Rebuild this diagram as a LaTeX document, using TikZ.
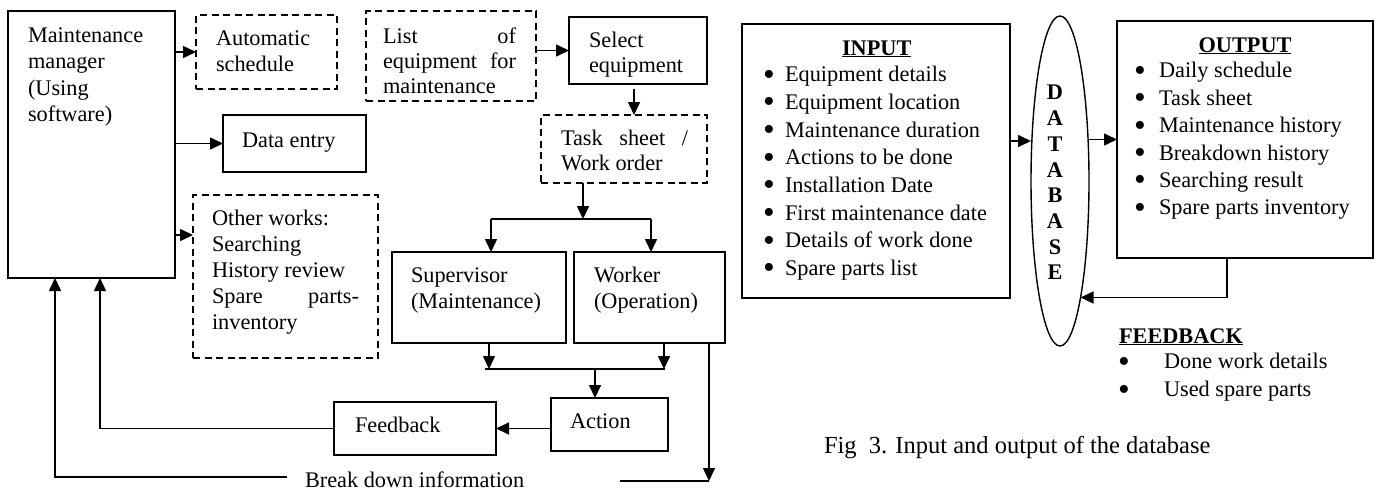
\documentclass[tikz,border=0pt]{standalone}
\usepackage{fontspec}
\usepackage{graphicx}
\setmainfont{Liberation Serif}
\usetikzlibrary{arrows.meta,shapes.geometric,fit}
\newcommand\bul[1]{\makebox[#1][l]{\hspace*{-2pt}\raisebox{-0.15em}{\scalebox{1.5}{\textbullet}}}}
\begin{document}
\begin{tikzpicture}[x=1pt,y=-1pt,
  every node/.style={inner sep=0pt, outer sep=0pt},
  box/.style={draw, line width=1.6pt},
  dbox/.style={draw, line width=1.5pt, dash pattern=on 7pt off 4.5pt},
  txt/.style={anchor=north west, align=left, font=\fontsize{22.3}{26.5}\selectfont},
  txtb/.style={anchor=north west, align=left, font=\fontsize{22.3}{25}\selectfont},
  ln/.style={line width=1.6pt},
  arr/.style={line width=1.6pt, -{Triangle[length=13pt,width=12pt]}}]
\useasboundingbox (0,0) rectangle (1380,490);

% ---------- maintenance flow ----------
\node[box, fit={(8,11)(175,278)}] (mgr) {};
\node[txt] (mgr-t) at (28,23.5) {\strut Maintenance\\manager\\(Using\\software)};

\node[dbox, fit={(196,15)(337,89)}] (auto) {};
\node[txt] (auto-t) at (216,26.5) {\strut Automatic\\schedule};

\node[box, fit={(223,115)(366,172)}] (data) {};
\node[txt] (data-t) at (242,128.5) {\strut Data entry};

\node[dbox, fit={(193,195)(378,358)}] (oth) {};
\node[txt, font=\fontsize{22.3}{26}\selectfont] (oth-t) at (212,206.8)
  {\strut Other works:\\Searching\\History review\\\hbox to 147pt{Spare\hfill parts-}\\inventory};

\node[dbox, fit={(366,11)(536,101)}] (list) {};
\node[txtb] (list-t) at (383,25.5)
  {\strut\hbox to 133pt{List\hfill of}\\\hbox to 133pt{equipment\hfill for}\\maintenance};

\node[box, fit={(569,17)(707,84)}] (sel) {};
\node[txtb] (sel-t) at (589,29.5) {\strut Select\\equipment};

\node[dbox, fit={(541,115)(707,183)}] (task) {};
\node[txtb] (task-t) at (561,127.5) {\strut\hbox to 127pt{Task\hfill sheet\hfill /}\\Work order};

\node[box, fit={(392,252)(566,343)}] (sup) {};
\node[txt, font=\fontsize{22.3}{26}\selectfont] (sup-t) at (411,263.8) {\strut Supervisor\\(Maintenance)};

\node[box, fit={(574,252)(725,343)}] (wrk) {};
\node[txt, font=\fontsize{22.3}{26}\selectfont] (wrk-t) at (594,263.8) {\strut Worker\\(Operation)};

\node[box, fit={(551,398)(668,451)}] (act) {};
\node[txt] (act-t) at (570,409.5) {\strut Action};

\node[box, fit={(334,402)(496,455)}] (fb) {};
\node[txt] (fb-t) at (355,413.5) {\strut Feedback};

\node[txt] (bd) at (305,468.5) {\strut Break down information};

% connectors of the flow
\draw[arr] (mgr.east |- auto.west) -- (auto.west);
\draw[arr] (mgr.east |- data.west) -- (data.west);
\coordinate (othin) at ([yshift=-40pt]oth.north west);
\draw[arr] (mgr.east |- othin) -- (othin);
\draw[arr] (list.east |- sel.west) -- (sel.west);
\coordinate (s1) at ([xshift=-4pt,yshift=-5pt]sel.south);
\draw[arr] (s1) -- (s1 |- task.north);

\coordinate (spl) at (583,219);
\coordinate (splL) at (491,219);
\coordinate (splR) at (651,219);
\draw[arr] (spl |- task.south) -- (spl);
\draw[ln] (splL) -- (splR);
\draw[arr] (splL) -- (splL |- sup.north);
\draw[arr] (splR) -- (splR |- wrk.north);

\coordinate (m1) at (489,369);
\coordinate (m2) at (664,369);
\coordinate (mrgL) at (485,369);
\coordinate (mrgR) at (665,369);
\coordinate (mrg) at (595,369);
\draw[arr] (m1 |- sup.south) -- (m1);
\draw[arr] (m2 |- wrk.south) -- (m2);
\draw[ln] (mrgL) -- (mrgR);
\draw[arr] (mrg) -- (mrg |- act.north);

\draw[arr] (act.west |- fb.east) -- (fb.east);
\coordinate (mgr2) at ([xshift=92pt]mgr.south west);
\draw[arr] (fb.west) -| (mgr2);

\coordinate (bdR) at (709,481);
\coordinate (bdRe) at (620,481);
\coordinate (bdLe) at (287,477);
\coordinate (mgr1) at ([xshift=47pt]mgr.south west);
\draw[arr] (bdR |- wrk.south) -- (bdR);
\draw[ln] (bdR) -- (bdRe);
\draw[arr] (bdLe) -| (mgr1);

% ---------- database input / output ----------
\node[box, fit={(742,24)(1010,298)}] (inp) {};
\node[anchor=base, font=\fontsize{22.3}{26.5}\selectfont\bfseries] (inp-h) at (876.7,55) {\underline{INPUT}};
\node[anchor=north west, align=left, font=\fontsize{22.3}{27.7}\selectfont] (inp-t) at (765,62.3)
  {\strut\bul{20pt}Equipment details\\\bul{20pt}Equipment location\\\bul{20pt}Maintenance duration\\
   \bul{20pt}Actions to be done\\\bul{20pt}Installation Date\\\bul{20pt}First maintenance date\\
   \bul{20pt}Details of work done\\\bul{20pt}Spare parts list};

\node[draw, ellipse, line width=1.4pt, minimum width=58pt, minimum height=330pt] (db) at (1060,181) {};
\node[anchor=north, align=center, font=\fontsize{22.3}{25.7}\selectfont\bfseries] (db-t) at (1055,82)
  {\strut D\\A\\T\\A\\B\\A\\S\\E};

\node[box, fit={(1117,21)(1373,258)}] (out) {};
\node[anchor=base, font=\fontsize{22.3}{26.5}\selectfont\bfseries] (out-h) at (1245,52) {\underline{OUTPUT}};
\node[anchor=north west, align=left, font=\fontsize{22.3}{27.4}\selectfont] (out-t) at (1136,58.8)
  {\strut\bul{23pt}Daily schedule\\\bul{23pt}Task sheet\\\bul{23pt}Maintenance history\\
   \bul{23pt}Breakdown history\\\bul{23pt}Searching result\\\bul{23pt}Spare parts inventory};

\coordinate (i1) at ([yshift=20pt]inp.east);
\draw[arr] (i1) -- (i1 -| db.west);
\draw[arr] (db.east |- out.west) -- (out.west);
\coordinate (o1) at ([xshift=-18pt]out.south);
\draw[arr] (o1) |- (db.-80);

\node[anchor=base west, font=\fontsize{22.3}{26.5}\selectfont\bfseries] (fbk-h) at (1119,343) {\underline{FEEDBACK}};
\node[anchor=north west, align=left, font=\fontsize{22.3}{27.7}\selectfont] (fbk-t) at (1120,349.6)
  {\strut\bul{44pt}Done work details\\\bul{44pt}Used spare parts};

\node[anchor=base west, font=\fontsize{24.5}{28}\selectfont] (cap) at (824,453)
  {Fig\ \ 3. Input and output of the database};
\end{tikzpicture}
\end{document}
